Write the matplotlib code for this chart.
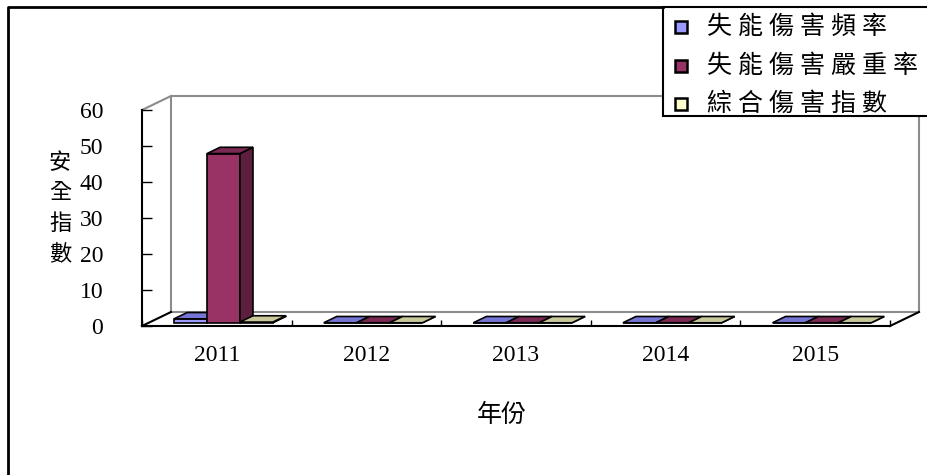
import matplotlib
matplotlib.use("Agg")
import matplotlib.pyplot as plt
from matplotlib.patches import Polygon, Rectangle

# data
years = ['2011', '2012', '2013', '2014', '2015']
freq = [1.1, 0, 0, 0, 0]     # 失能傷害頻率
sev = [47, 0, 0, 0, 0]       # 失能傷害嚴重率
fsi = [0.2, 0, 0, 0, 0]      # 綜合傷害指數
names = ['失能傷害頻率', '失能傷害嚴重率', '綜合傷害指數']
yticks = [0, 10, 20, 30, 40, 50, 60]

front = ['#9999ff', '#993366', '#ffffcc']
top = ['#7575d6', '#7b2853', '#c9c99b']
side = ['#5a5ab0', '#5e1f3e', '#a3a374']

plt.rcParams['font.family'] = ['Liberation Serif', 'Noto Sans CJK TC']
cjk = ['Noto Sans CJK TC', 'DejaVu Sans']

fig = plt.figure(figsize=(9.28, 4.75), dpi=100)
ax = fig.add_axes([142/928, 149/475, 748/928, 216/475])
ax.set_xlim(-0.5, 4.5)
ax.set_ylim(0, 60)

# depth of the fake 3d box, in data units
DX = 5 * 29 / 748
DY = 60 * 14 / 216
w = 0.22
z0, z1 = 0.23, 0.68
ddx, ddy = (z1 - z0) * DX, (z1 - z0) * DY

# walls
gray = '#8c8c8c'
ax.plot([-0.5 + DX, -0.5 + DX, 4.5 + DX, 4.5 + DX, -0.5 + DX],
        [DY, 60 + DY, 60 + DY, DY, DY], color=gray, lw=1.5, clip_on=False, zorder=1)
ax.plot([-0.5, -0.5 + DX], [60, 60 + DY], color=gray, lw=1.5, clip_on=False, zorder=1)
ax.plot([-0.5, -0.5 + DX], [0, DY], color='black', lw=1.5, clip_on=False, zorder=1)
ax.plot([4.5, 4.5 + DX], [0, DY], color='black', lw=1.5, clip_on=False, zorder=1)

z = 2
for c in range(len(years)):
    for i, vals in enumerate([freq, sev, fsi]):
        v = vals[c]
        x0 = c - 1.5 * w + i * w + z0 * DX
        b = z0 * DY
        ax.bar(x0, v, width=w, bottom=b, align='edge', color=front[i],
               edgecolor='black', lw=1.2, zorder=z)
        ax.add_patch(Polygon([(x0 + w, b), (x0 + w + ddx, b + ddy),
                              (x0 + w + ddx, b + v + ddy), (x0 + w, b + v)],
                             closed=True, fc=side[i], ec='black', lw=1.2, zorder=z))
        ax.add_patch(Polygon([(x0, b + v), (x0 + w, b + v),
                              (x0 + w + ddx, b + v + ddy), (x0 + ddx, b + v + ddy)],
                             closed=True, fc=top[i], ec='black', lw=1.2, zorder=z))
        z += 1

ax.patch.set_visible(False)
ax.spines['top'].set_visible(False)
ax.spines['right'].set_visible(False)
ax.spines['left'].set_linewidth(1.5)
ax.spines['bottom'].set_linewidth(1.5)

ax.set_yticks(yticks)
ax.tick_params(axis='y', direction='in', length=7, width=1, pad=28, labelsize=17)
ax.set_xticks(range(len(years)))
ax.set_xticklabels(years)
ax.tick_params(axis='x', length=0, pad=14, labelsize=17)
ax.set_xticks([k - 0.5 for k in range(6)], minor=True)
ax.tick_params(axis='x', which='minor', direction='in', length=4.5, width=1)

# overlay in pixel units for frame, labels and legend
ov = fig.add_axes([0, 0, 1, 1], zorder=10)
ov.set_xlim(0, 928)
ov.set_ylim(475, 0)
ov.axis('off')
ov.plot([8, 8, 663], [475, 7, 7], color='black', lw=2)

ov.text(60, 208, '安\n全\n指\n數', ha='center', va='center', fontsize=16,
        family=cjk, linespacing=1.4)
ov.text(502, 415, '年份', ha='center', va='center', fontsize=18, family=cjk)

ov.add_patch(Rectangle((663, 7), 280, 109, fc='white', ec='black', lw=1.5, clip_on=False))
for i, (name, y) in enumerate(zip(names, [27, 66, 104])):
    ov.add_patch(Rectangle((675, y - 6), 12, 12, fc=front[i], ec='black', lw=1.8))
    for k, ch in enumerate(name):
        ov.text(719 + 31 * k, y, ch, ha='center', va='center', fontsize=18, family=cjk)

fig.savefig('out.png', dpi=100, facecolor='white')
